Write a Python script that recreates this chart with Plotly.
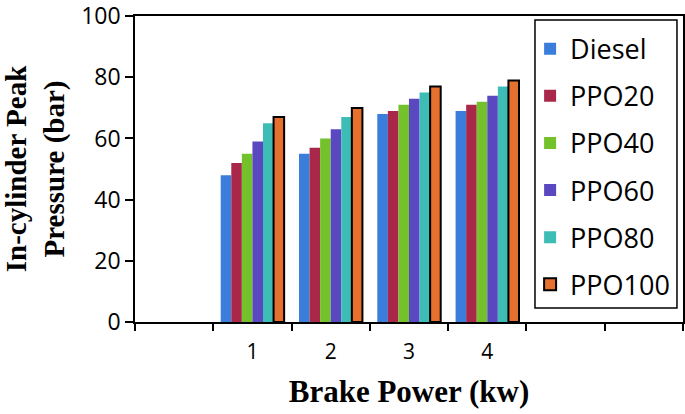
import plotly.graph_objects as go

categories = [" ", "1", "2", "3", "4", "  ", "   "]
power = ["1", "2", "3", "4"]
series_names = ["Diesel", "PPO20", "PPO40", "PPO60", "PPO80", "PPO100"]
diesel = [48, 55, 68, 69]
ppo20 = [52, 57, 69, 71]
ppo40 = [55, 60, 71, 72]
ppo60 = [59, 63, 73, 74]
ppo80 = [65, 67, 75, 77]
ppo100 = [67, 70, 77, 79]
values = [diesel, ppo20, ppo40, ppo60, ppo80, ppo100]
colors = ["#3A7DDA", "#A9284A", "#73C12B", "#5A48C0", "#3DBDB6", "#E6702E"]

fig = go.Figure()
for name, vals, col in zip(series_names, values, colors):
    outline = 2 if name == "PPO100" else 0
    fig.add_trace(go.Bar(
        x=power, y=vals, name=name, legendgroup=name,
        marker=dict(color=col, line=dict(color="black", width=outline)),
    ))

fig.update_layout(
    width=685, height=414,
    margin=dict(l=135, r=2, t=16, b=92),
    plot_bgcolor="white", paper_bgcolor="white",
    barmode="group", bargap=0.19, bargroupgap=0,
    font=dict(family="Open Sans", color="black"),
    legend=dict(
        x=0.721, y=0.9716, xanchor="left", yanchor="top",
        borderwidth=0, bgcolor="rgba(0,0,0,0)",
        font=dict(family="Open Sans", size=27, color="black"),
        tracegroupgap=9, traceorder="grouped",
    ),
    showlegend=True,
)
# legend frame
fig.add_shape(type="rect", xref="paper", yref="paper",
              x0=0.7299, x1=0.989, y0=0.0458, y1=0.987,
              line=dict(color="black", width=1.5), fillcolor="rgba(0,0,0,0)")
fig.update_xaxes(
    type="category", categoryorder="array", categoryarray=categories,
    range=[-0.5, 6.5], tickson="boundaries", automargin=False,
    showline=True, mirror=True, linecolor="black", linewidth=1.5,
    ticks="outside", ticklen=7, tickcolor="black", tickwidth=1.5,
    ticklabelstandoff=10,
    tickfont=dict(family="Open Sans", size=21, color="black"),
    showgrid=False, zeroline=False,
    title=dict(text="<b>Brake Power (kw)</b>",
               font=dict(family="Liberation Serif", size=31, color="black"),
               standoff=16),
)
fig.update_yaxes(
    range=[0, 100.05], tickvals=[0, 20, 40, 60, 80, 100], automargin=False,
    showline=True, mirror=True, linecolor="black", linewidth=1.5,
    ticks="outside", ticklen=8, tickcolor="black", tickwidth=1.5,
    ticklabeloverflow="allow",
    tickfont=dict(family="Open Sans", size=23, color="black"),
    showgrid=False, zeroline=False,
    title=dict(text="<b>In-cylinder Peak<br>Pressure (bar)</b>",
               font=dict(family="Liberation Serif", size=29, color="black"),
               standoff=63),
)

# remove the default page margin so the figure fills the 685x414 window
fig.write_html("out.html", config={"displayModeBar": False},
               post_script="document.body.style.margin='0';")
